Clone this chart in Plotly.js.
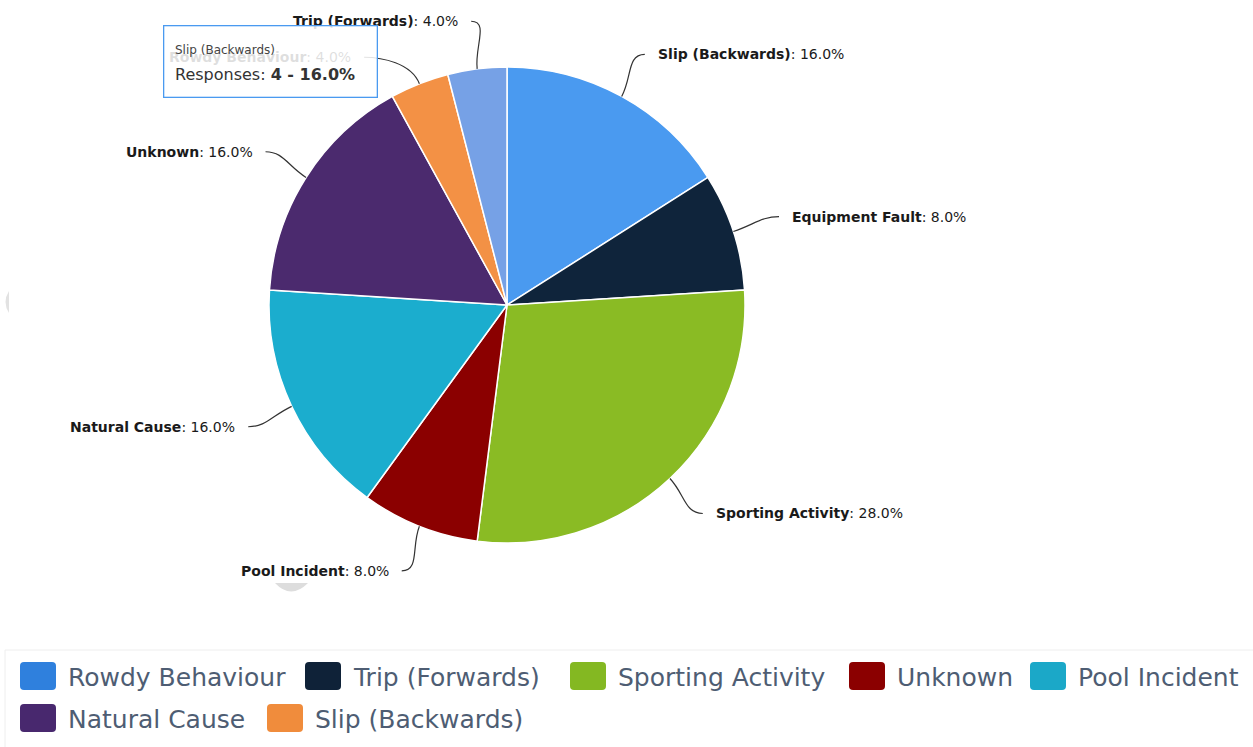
<!DOCTYPE html>
<html>
<head>
<meta charset="utf-8">
<script src="https://cdn.plot.ly/plotly-3.0.1.min.js"></script>
<style>
  html, body { margin: 0; padding: 0; background: #fff; }
  #chart { width: 1253px; height: 747px; }
</style>
</head>
<body>
<div id="chart"></div>
<script>
// ---- data ----
const categories = ["Slip (Backwards)", "Equipment Fault", "Sporting Activity", "Pool Incident",
                    "Natural Cause", "Unknown", "Rowdy Behaviour", "Trip (Forwards)"];
const responses = [4, 2, 7, 2, 4, 4, 1, 1];
const sliceColors = ["#4A9AF0", "#0F243B", "#8ABB24", "#8B0000", "#1BADCE", "#4B2A6E", "#F39145", "#76A1E6"];

const legendLabels = ["Rowdy Behaviour", "Trip (Forwards)", "Sporting Activity", "Unknown",
                      "Pool Incident", "Natural Cause", "Slip (Backwards)"];
const legendColors = ["#2F80DD", "#0F2238", "#84B822", "#8B0000", "#1BA8C8", "#48286E", "#F08C3C"];

const tooltipCategory = "Slip (Backwards)";

// ---- layout constants (pixels) ----
const W = 1253, H = 747;
const cx = 507, cy = 305, R = 238;
const labelDist = 48;
const px = x => x / W;
const py = y => 1 - y / H;
const FONT = 'DejaVu Sans, Verdana, sans-serif';

const total = responses.reduce((a, b) => a + b, 0);
const pct = v => (100 * v / total).toFixed(1) + '%';

// ---- pie ----
const trace = {
  type: 'pie',
  labels: categories,
  values: responses,
  sort: false,
  direction: 'clockwise',
  rotation: 0,
  marker: { colors: sliceColors, line: { color: '#ffffff', width: 1.5 } },
  textinfo: 'none',
  hoverinfo: 'skip',
  showlegend: false,
  domain: { x: [px(cx - R), px(cx + R)], y: [py(cy + R), py(cy - R)] }
};

// ---- data labels with connectors (computed from slice angles) ----
const annotations = [];
const shapes = [];
let cum = 0;
const labels = categories.map((c, i) => {
  const mid = (cum + responses[i] / 2) / total * 2 * Math.PI;
  cum += responses[i];
  const s = Math.sin(mid), co = Math.cos(mid);
  return { i, mid, s, co, side: s >= 0 ? 1 : -1, y: cy - (R + labelDist) * co };
});
// avoid overlap on each side
[1, -1].forEach(side => {
  const arr = labels.filter(l => l.side === side).sort((a, b) => a.y - b.y);
  for (let k = 1; k < arr.length; k++) {
    if (arr[k].y - arr[k - 1].y < 36) arr[k].y = arr[k - 1].y + 36;
  }
});
labels.forEach(l => {
  const LR = R + labelDist;
  const dy = l.y - cy;
  const dx = Math.sqrt(Math.max(0, LR * LR - dy * dy));
  const ax = cx + l.side * dx;
  const ex = cx + R * l.s, ey = cy - R * l.co;
  const c1x = ax - l.side * 18, c1y = l.y;
  const c2x = ex + l.s * 22, c2y = ey - l.co * 22;
  shapes.push({
    type: 'path', xref: 'paper', yref: 'paper',
    path: `M ${px(ax)} ${py(l.y)} C ${px(c1x)} ${py(c1y)} ${px(c2x)} ${py(c2y)} ${px(ex)} ${py(ey)}`,
    line: { color: '#333333', width: 1.2 }, layer: 'above'
  });
  annotations.push({
    xref: 'paper', yref: 'paper', x: px(ax + l.side * 11), y: py(l.y),
    xanchor: l.side > 0 ? 'left' : 'right', yanchor: 'middle', showarrow: false,
    text: `<b>${categories[l.i]}</b>: ${pct(responses[l.i])}`,
    font: { family: FONT, size: 14, color: '#1a1a1a' }
  });
});

// ---- tooltip ----
const ti = categories.indexOf(tooltipCategory);
annotations.push({
  xref: 'paper', yref: 'paper', x: px(163), y: py(25), xanchor: 'left', yanchor: 'top',
  showarrow: false, text: ' ', width: 212, height: 70, borderpad: 0,
  bgcolor: 'rgba(255,255,255,0.86)', bordercolor: sliceColors[ti], borderwidth: 1.3,
  font: { family: FONT, size: 12 }
});
annotations.push({
  xref: 'paper', yref: 'paper', x: px(173), y: py(50), xanchor: 'left', yanchor: 'middle',
  showarrow: false, text: tooltipCategory,
  font: { family: FONT, size: 12, color: '#444444' }
});
annotations.push({
  xref: 'paper', yref: 'paper', x: px(173), y: py(74), xanchor: 'left', yanchor: 'middle',
  showarrow: false, text: `Responses: <b>${responses[ti]} - ${pct(responses[ti])}</b>`,
  font: { family: FONT, size: 16, color: '#333333' }
});

// ---- faint artifacts ----
shapes.push({ type: 'path', xref: 'paper', yref: 'paper',
  path: `M ${px(275)} ${py(583)} Q ${px(291)} ${py(600)} ${px(308)} ${py(583)} Z`,
  fillcolor: '#dddddd', line: { width: 0 } });
shapes.push({ type: 'path', xref: 'paper', yref: 'paper',
  path: `M ${px(9)} ${py(291)} Q ${px(2)} ${py(302)} ${px(9)} ${py(313)} Z`,
  fillcolor: '#e2e2e2', line: { width: 0 } });

// ---- custom legend ----
shapes.push({ type: 'line', xref: 'paper', yref: 'paper', x0: px(5), x1: px(1253), y0: py(650), y1: py(650),
  line: { color: '#eeeeee', width: 1 } });
shapes.push({ type: 'line', xref: 'paper', yref: 'paper', x0: px(5), x1: px(5), y0: py(650), y1: py(747),
  line: { color: '#eeeeee', width: 1 } });
const legendPos = [[20, 676], [305, 676], [570, 676], [849, 676], [1030, 676], [20, 718], [267, 718]];
const sqW = 36, sqH = 28, rr = 4;
legendLabels.forEach((lab, i) => {
  const [x0, yc] = legendPos[i];
  const y0 = yc - sqH / 2, x1 = x0 + sqW, y1 = yc + sqH / 2;
  const p = `M ${px(x0 + rr)} ${py(y0)} L ${px(x1 - rr)} ${py(y0)} Q ${px(x1)} ${py(y0)} ${px(x1)} ${py(y0 + rr)} ` +
            `L ${px(x1)} ${py(y1 - rr)} Q ${px(x1)} ${py(y1)} ${px(x1 - rr)} ${py(y1)} ` +
            `L ${px(x0 + rr)} ${py(y1)} Q ${px(x0)} ${py(y1)} ${px(x0)} ${py(y1 - rr)} ` +
            `L ${px(x0)} ${py(y0 + rr)} Q ${px(x0)} ${py(y0)} ${px(x0 + rr)} ${py(y0)} Z`;
  shapes.push({ type: 'path', xref: 'paper', yref: 'paper', path: p,
    fillcolor: legendColors[i], line: { width: 0 } });
  annotations.push({ xref: 'paper', yref: 'paper', x: px(x1 + 10), y: py(yc + 1),
    xanchor: 'left', yanchor: 'middle', showarrow: false, text: lab,
    font: { family: FONT, size: 25, color: '#4E5D73' } });
});

const layout = {
  width: W, height: H,
  margin: { l: 0, r: 0, t: 0, b: 0 },
  paper_bgcolor: '#ffffff',
  showlegend: false,
  shapes, annotations
};

Plotly.newPlot('chart', [trace], layout, { displayModeBar: false, staticPlot: true });
</script>
</body>
</html>
